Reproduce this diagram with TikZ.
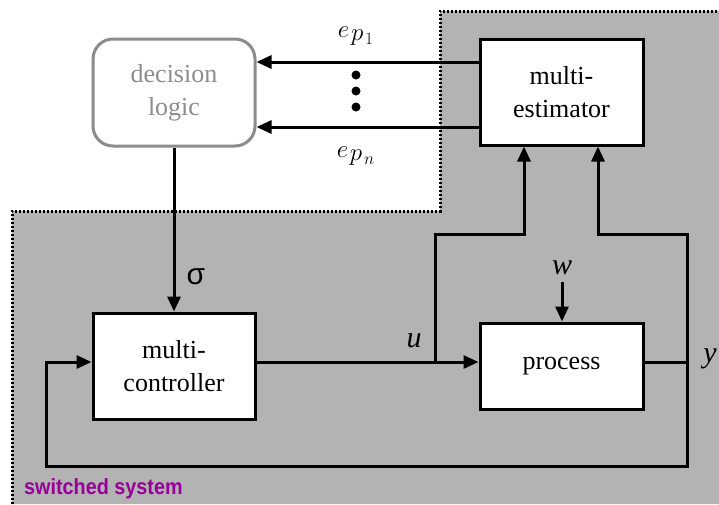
\documentclass[tikz,border=0pt]{standalone}
\usepackage{fontspec}
\setmainfont{Liberation Serif}
\newfontfamily\labelsans{Liberation Sans}
\usetikzlibrary{arrows.meta}
\definecolor{sysgray}{RGB}{179,179,179}
\definecolor{logicgray}{RGB}{140,140,140}
\definecolor{syspurple}{RGB}{153,0,153}
\tikzset{
  block/.style={draw=black, line width=3pt, fill=white, align=center,
    font=\fontsize{26}{33}\selectfont, inner sep=0pt},
  sig/.style={line width=3pt},
  arr/.style={sig, -{Triangle[length=15pt,width=13pt]}},
  varlabel/.style={font=\fontsize{30}{30}\selectfont\itshape, inner sep=0pt},
  errlabel/.style={font=\fontsize{26}{26}\selectfont, inner sep=0pt},
}
\begin{document}
\begin{tikzpicture}[x=1pt,y=-1pt]
  \useasboundingbox (0,0) rectangle (719,504);
  \fill[white] (0,0) rectangle (719,504);
  % shaded region of the switched system
  \fill[sysgray] (12,211) -- (440,211) -- (440,11) -- (719,11) -- (719,504) -- (12,504) -- cycle;
  \draw[line width=3pt, dash pattern=on 2.2pt off 1.8pt] (12,504) -- (12,211) -- (440,211) -- (440,11) -- (719,11);

  % blocks
  \node[block, draw=logicgray, text=logicgray, rounded corners=20pt,
        minimum width=162pt, minimum height=107pt] (dl) at (174,92.5) {decision\\logic};
  \node[block, minimum width=163pt, minimum height=106pt] (est) at (561.5,92) {multi-\\estimator};
  \node[block, minimum width=162pt, minimum height=106pt] (ctrl) at (174,366) {multi-\\controller};
  \node[block, minimum width=163pt, minimum height=86pt] (proc) at (561.5,366) {process};

  % helper coordinates
  \coordinate (e1) at (0,62);
  \coordinate (en) at (0,127);
  \coordinate (sl) at (0,362);
  \coordinate (ub) at (435,362);
  \coordinate (ua) at (524,234);
  \coordinate (yb) at (687,362);
  \coordinate (ya) at (598,234);
  \coordinate (yt) at (687,234);
  \coordinate (fb) at (687,466);
  \coordinate (fl) at (46,466);
  \coordinate (fc) at (46,362);
  \coordinate (wt) at (562,282);

  % error signals
  \draw[arr] (est.west |- e1) -- (dl.east |- e1);
  \draw[arr] (est.west |- en) -- (dl.east |- en);
  \foreach \yy in {75,91,107} \fill (356,\yy) circle (4.5pt);
  \node[errlabel] (lp1) at (356,36) {$e_{\mkern2mu\textstyle p_{\mkern2mu\scriptstyle 1}}$};
  \node[errlabel] (lpn) at (356,156) {$e_{\mkern2mu\textstyle p_{\mkern2mu\scriptstyle n}}$};

  % switching signal
  \draw[arr] (dl.south) -- (ctrl.north);
  \node[font=\labelsans\fontsize{30}{30}\selectfont, inner sep=0pt] (sg) at (196,277) {σ};

  % control input
  \draw[arr] (ctrl.east |- sl) -- (proc.west |- sl);
  \draw[arr] (ub) |- (ua) -- (ua |- est.south);
  \node[varlabel] (lu) at (414,341) {u};

  % disturbance
  \draw[arr] (wt) -- (proc.north -| wt);
  \node[varlabel] (lw) at (562,268) {w};

  % measured output and feedback
  \draw[sig] (proc.east |- sl) -- (yb);
  \draw[arr] (yb) -- (yt) -- (ya) -- (ya |- est.south);
  \draw[arr] (yb) -- (fb) -- (fl) -- (fc) -- (ctrl.west |- sl);
  \node[varlabel] (ly) at (710,359) {y};

  \node[font=\labelsans\bfseries\fontsize{22}{22}\selectfont, text=syspurple,
        anchor=west, inner sep=0pt] (sys) at (24,489) {\scalebox{0.9}[1]{switched system}};
\end{tikzpicture}
\end{document}
